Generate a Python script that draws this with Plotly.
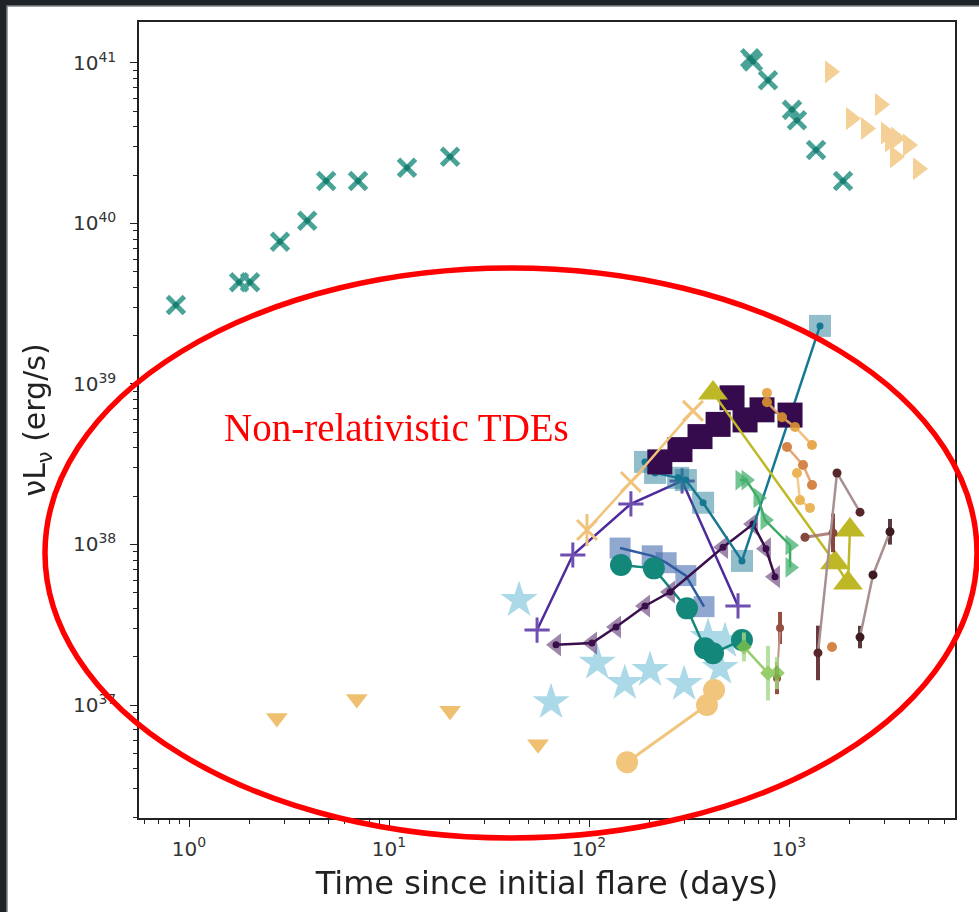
import plotly.graph_objects as go

# ---------------- data: time since flare (days) vs nu*L_nu (erg/s) ----------------
# relativistic events (upper left / upper right groups)
x_cross = [0.86, 1.78, 2.02, 2.85, 3.9, 4.85, 7.0, 12.3, 20.2, 640, 660, 785, 1035, 1096, 1365, 1862]
y_cross = [3.1e39, 4.3e39, 4.3e39, 7.7e39, 1.04e40, 1.84e40, 1.84e40, 2.22e40, 2.6e40,
           1.07e41, 1.02e41, 7.8e40, 5.1e40, 4.4e40, 2.87e40, 1.84e40]

x_rtri = [1603, 2042, 2851, 2427, 3055, 3199, 3428, 3936, 3388, 4416]
y_rtri = [8.8e40, 4.5e40, 5.5e40, 3.9e40, 3.66e40, 3.27e40, 3.4e40, 3.08e40, 2.6e40, 2.19e40]

# non-relativistic events
x_dtri = [2.75, 6.9, 20.2, 55.6]
y_dtri = [8.3e36, 1.09e37, 9.2e36, 5.7e36]

x_star = [44.7, 64.6, 110, 151, 202, 299, 394, 452, 479]
y_star = [4.5e37, 1.04e37, 1.83e37, 1.37e37, 1.65e37, 1.35e37, 2.65e37, 1.7e37, 2.5e37]

x_ocirc = [155, 389, 422]
y_ocirc = [4.4e36, 1.0e37, 1.24e37]

x_tcirc = [144.5, 211, 309, 380, 417, 582]
y_tcirc = [7.45e37, 7.1e37, 4.0e37, 2.26e37, 2.1e37, 2.54e37]

x_bsq = [143, 207, 243, 305, 376]
y_bsq = [9.5e37, 8.5e37, 7.7e37, 6.4e37, 4.1e37]

x_tsq = [190.5, 214, 279, 305, 372, 582, 1429]
y_tsq = [3.27e38, 2.79e38, 2.6e38, 2.52e38, 1.82e38, 7.9e37, 2.3e39]

x_psq = [226, 285, 359, 442, 519, 603, 733, 1012]
y_psq = [3.27e38, 3.9e38, 4.7e38, 5.6e38, 8.2e38, 5.97e38, 6.9e38, 6.4e38]

x_olive = [417, 1698, 1972, 2018]
y_olive = [8.8e38, 7.7e37, 5.75e37, 1.23e38]

x_ox = [97.7, 162, 331]
y_ox = [1.23e38, 2.45e38, 6.8e38]
e_ox = [0.1, 0.0, 0.0]

x_plus = [55, 83, 162, 292, 556]
y_plus = [2.93e37, 8.6e37, 1.79e38, 2.49e38, 4.14e37]

x_ltri = [68.4, 103.5, 136.5, 190.5, 254, 468, 661, 767, 851]
y_ltri = [2.37e37, 2.43e37, 3.06e37, 4.14e37, 5.06e37, 9.6e37, 1.34e38, 9.4e37, 6.3e37]

x_gtri = [569, 610, 700, 759, 1012, 1012]
y_gtri = [2.52e38, 2.52e38, 1.95e38, 1.42e38, 9.9e37, 7.2e37]

x_orA = [776, 776, 923, 1072, 1303]
y_orA = [8.8e38, 7.7e38, 6.2e38, 5.4e38, 4.17e38]
x_orB = [977, 1175, 1303]
y_orB = [4.05e38, 3.13e38, 2.35e38]
x_orC = [1096, 1135, 1274]
y_orC = [2.79e38, 1.89e38, 1.69e38]
x_orD = [1641]
y_orD = [2.3e37]

x_brP = [1396, 1738, 2265]
y_brP = [2.11e37, 2.79e38, 1.59e38]
e_brP = [0.17, 0.0, 0.0]
x_brQ = [2265, 2630, 3199]
y_brQ = [2.65e37, 6.46e37, 1.2e38]
e_brQ = [0.07, 0.0, 0.08]
x_brR = [871, 902]
y_brR = [1.47e37, 3.02e37]
e_brR = [0.1, 0.1]
x_brS = [1202, 1660]
y_brS = [1.11e38, 1.18e38]
e_brS = [0.0, 0.12]

x_lg = [595, 785, 870]
y_lg = [2.3e37, 1.58e37, 1.58e37]
e_lg = [0.09, 0.17, 0.1]

x_tickvals = [1, 10, 100, 1000]
x_ticktext = ["10<sup>0</sup>", "10<sup>1</sup>", "10<sup>2</sup>", "10<sup>3</sup>"]
y_tickvals = [1e37, 1e38, 1e39, 1e40, 1e41]
y_ticktext = ["10<sup>37</sup>", "10<sup>38</sup>", "10<sup>39</sup>", "10<sup>40</sup>", "10<sup>41</sup>"]


def dex_err(ys, dex):
    plus = [y * (10 ** d - 1) for y, d in zip(ys, dex)]
    minus = [y * (1 - 10 ** -d) for y, d in zip(ys, dex)]
    return plus, minus


fig = go.Figure()


def add(x, y, mode, symbol=None, size=10, color="#000", opacity=1.0, lcolor=None, lwidth=2.5,
        err=None, ecolor=None, ewidth=3, mline=None):
    kw = {}
    if err is not None:
        p, m = dex_err(y, err)
        kw["error_y"] = dict(type="data", array=p, arrayminus=m, symmetric=False,
                             color=ecolor or color, thickness=ewidth, width=0)
    marker = dict(symbol=symbol, size=size, color=color,
                  line=mline or dict(width=0))
    fig.add_trace(go.Scatter(x=x, y=y, mode=mode, marker=marker, opacity=opacity,
                             line=dict(color=lcolor or color, width=lwidth),
                             showlegend=False, hoverinfo="skip", **kw))


# relativistic
add(x_cross, y_cross, "markers", "x-thin", 17, "#1c8a7c", 0.85,
    mline=dict(width=5, color="#2a9385"))
add(x_cross, y_cross, "markers", "circle", 6, "#127a6c", 0.9)
add(x_rtri, y_rtri, "markers", "triangle-right", 20, "#f0c173", 0.75)

# non-relativistic
add(x_dtri, y_dtri, "markers", "triangle-down", 19, "#efc070", 1.0)
add(x_star, y_star, "markers", "star", 28, "#acd9e8", 1.0)
add(x_ocirc, y_ocirc, "lines+markers", "circle", 22, "#f1c57c", 1.0, lwidth=3)
add(x_bsq, y_bsq, "markers", "square", 21, "rgba(70,110,175,0.6)")
add(x_bsq, y_bsq, "lines", lcolor="#2f5c9f", lwidth=2.5)
add(x_tcirc, y_tcirc, "lines+markers", "circle", 22, "#13877a", 1.0, lwidth=2.5)
add(x_plus, y_plus, "lines+markers", "cross-thin", 18, "#4e2a9c", 1.0, lwidth=2.5,
    mline=dict(width=3, color="#6f4fb0"))
add(x_ltri, y_ltri, "markers", "triangle-left", 20, "rgba(95,55,115,0.6)")
add(x_ltri, y_ltri, "lines+markers", "circle", 7, "#3a0f4c", 1.0, lwidth=2.5)
add(x_tsq, y_tsq, "markers", "square", 22, "rgba(35,125,150,0.5)")
add(x_tsq, y_tsq, "lines+markers", "circle", 7, "#157792", 1.0, lwidth=2.5)
add(x_psq, y_psq, "lines+markers", "square", 25, "#360b4e", 1.0, lwidth=2.5)
add(x_ox, y_ox, "lines+markers", "x-thin", 20, "#f1c27a", 1.0, lwidth=2.5,
    mline=dict(width=3, color="#f1c27a"), err=e_ox, ewidth=3)
add(x_gtri, y_gtri, "lines+markers", "triangle-right", 18, "rgba(70,175,110,0.75)",
    lcolor="#3ea866", lwidth=2.5)
add(x_olive, y_olive, "lines+markers", "triangle-up", 26, "#bfb826", 1.0, lwidth=2.5)
add(x_orA, y_orA, "lines+markers", "circle", 10, "#e49a2e", 0.85, lcolor="#f0b567", lwidth=2.5)
add(x_orB, y_orB, "lines+markers", "circle", 10, "#d0702a", 0.85, lcolor="#e09a5e", lwidth=2.5)
add(x_orC, y_orC, "lines+markers", "circle", 10, "#e8a83a", 0.85, lcolor="#f2c27e", lwidth=2.5)
add(x_orD, y_orD, "markers", "circle", 10, "#d0702a", 0.85)
add(x_brR, y_brR, "lines+markers", "circle", 8, "#8a3b2c", 0.9, lcolor="#b88878", lwidth=2,
    err=e_brR, ecolor="#8a3b2c", ewidth=4)
add(x_brS, y_brS, "lines+markers", "circle", 9, "#7a3428", 0.9, lcolor="#a87870", lwidth=3,
    err=e_brS, ecolor="#7a3428", ewidth=4)
add(x_brP, y_brP, "lines+markers", "circle", 9, "#57262a", 1.0, lcolor="#a89090", lwidth=2.5,
    err=e_brP, ecolor="#6a3a3e", ewidth=4)
add(x_brQ, y_brQ, "lines+markers", "circle", 9, "#3e1b20", 1.0, lcolor="#a89090", lwidth=2.5,
    err=e_brQ, ecolor="#5a3a3e", ewidth=4)
add(x_lg, y_lg, "lines+markers", "diamond", 12, "#7cc24a", 0.8, lwidth=2.5,
    err=e_lg, ecolor="#a6d88a", ewidth=4)

# ---------------- layout ----------------
W, H = 979, 912
L, R, T, B = 139, 955, 22, 818


def px(xp):
    return (xp - L) / (R - L)


def py(yp):
    return (B - yp) / (B - T)


minor_x = [d * 10.0 ** k for k in range(-1, 4) for d in range(2, 10)]
minor_y = [d * 10.0 ** k for k in range(36, 42) for d in range(2, 10)]

axis_common = dict(type="log", showgrid=False, zeroline=False, showline=True,
                   linecolor="#222", linewidth=1.5, mirror=True, ticks="outside",
                   ticklen=7, tickwidth=1.3, tickcolor="#222",
                   tickfont=dict(family="DejaVu Sans", size=20, color="#333"))

fig.update_layout(
    width=W, height=H,
    margin=dict(l=L, r=W - R, t=T, b=H - B, autoexpand=False),
    paper_bgcolor="#1d2327", plot_bgcolor="white",
    xaxis=dict(range=[-0.25, 3.83], tickmode="array", tickvals=x_tickvals, ticktext=x_ticktext,
               ticklabelstandoff=5,
               minor=dict(tickmode="array", tickvals=minor_x, ticks="outside", ticklen=4,
                          tickwidth=1.1, tickcolor="#222"),
               title=dict(text="Time since initial flare (days)", standoff=12,
                          font=dict(family="DejaVu Sans", size=32, color="#222")),
               **axis_common),
    yaxis=dict(range=[36.296, 41.255], tickmode="array", tickvals=y_tickvals, ticktext=y_ticktext,
               ticklabelstandoff=10,
               minor=dict(tickmode="array", tickvals=minor_y, ticks="outside", ticklen=4,
                          tickwidth=1.1, tickcolor="#222"),
               title=dict(text="νL<sub>ν</sub> (erg/s)", standoff=18,
                          font=dict(family="DejaVu Sans", size=30, color="#222")),
               **axis_common),
    shapes=[
        # white page inside the dark frame
        dict(type="rect", xref="paper", yref="paper", layer="below",
             x0=px(7), x1=px(W + 5), y0=py(H + 5), y1=py(6),
             fillcolor="white", line=dict(color="#7d8386", width=1.5)),
        # region of non-relativistic events
        dict(type="circle", xref="paper", yref="paper", layer="above",
             x0=px(45), x1=px(977), y0=py(838), y1=py(268),
             line=dict(color="#ff0000", width=5.5)),
    ],
    annotations=[
        dict(text="Non-relativistic TDEs", xref="paper", yref="paper",
             x=px(222), y=py(427), xanchor="left", yanchor="middle", showarrow=False,
             font=dict(family="Liberation Serif", size=39, color="#ff0000")),
    ],
)

fig.write_html("out.html")
